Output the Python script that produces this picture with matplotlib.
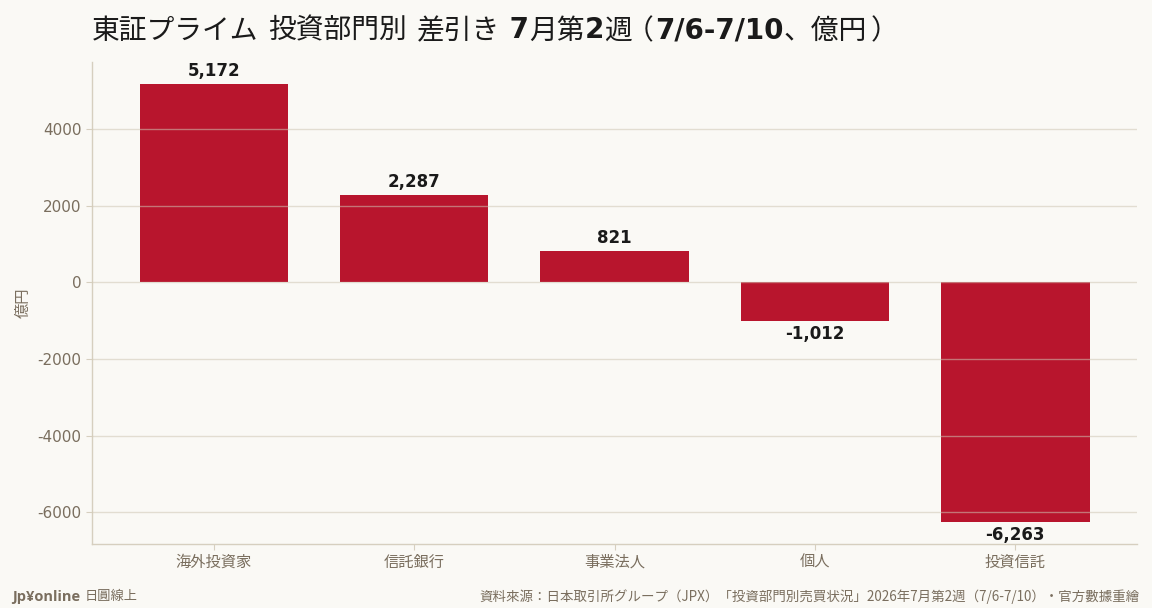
import re
import matplotlib
matplotlib.use("Agg")
import matplotlib.pyplot as plt

categories = ["海外投資家", "信託銀行", "事業法人", "個人", "投資信託"]
values = [5172, 2287, 821, -1012, -6263]
yticks = [-6000, -4000, -2000, 0, 2000, 4000]

title = "東証プライム 投資部門別 差引き 7月第2週（7/6-7/10、億円）"
ylabel = "億円"
brand_bold = "Jp¥online"
brand_rest = "日圓線上"
source = "資料來源：日本取引所グループ（JPX）「投資部門別売買状況」2026年7月第2週（7/6-7/10）・官方數據重繪"

BG = "#FAF9F5"
BAR = "#B8152D"
TICK = "#7A6E5E"
SPINE = "#D6CFBF"
GRID = "#CFC6B4"
DARK = "#1A1A1A"
LATIN = ["DejaVu Sans", "Noto Sans CJK JP"]
CJK_FIRST = ["Noto Sans CJK JP", "DejaVu Sans"]

plt.rcParams["font.family"] = CJK_FIRST

fig = plt.figure(figsize=(11.52, 6.08), dpi=100, facecolor=BG)
W = fig.bbox.width
ax = fig.add_axes([0.0799, 0.105, 0.9071, 0.793])
ax.set_facecolor(BG)

x = list(range(len(categories)))
ax.bar(x, values, width=0.74, color=BAR, zorder=1)

ax.set_axisbelow(False)
ax.yaxis.grid(True, color=GRID, alpha=0.55, linewidth=1.0, zorder=2)
ax.xaxis.grid(False)
ax.set_yticks(yticks)
ax.set_yticklabels([str(v) for v in yticks], family=LATIN)
ax.set_xticks(x)
ax.set_xticklabels(categories, family=CJK_FIRST)
ax.tick_params(axis="both", colors=SPINE, labelcolor=TICK, labelsize=11, length=4, width=0.8)
ax.tick_params(axis="x", pad=3)

for s in ["top", "right"]:
    ax.spines[s].set_visible(False)
for s in ["left", "bottom"]:
    ax.spines[s].set_color(SPINE)
    ax.spines[s].set_linewidth(1.0)

ax.set_ylabel(ylabel, color=TICK, fontsize=11, family=CJK_FIRST, labelpad=4)

for xi, v in zip(x, values):
    label = f"{v:,}"
    if v >= 0:
        ax.annotate(label, (xi, v), xytext=(0, 2.5), textcoords="offset points",
                    ha="center", va="bottom", fontsize=12, fontweight="bold",
                    color=DARK, family=LATIN)
    else:
        ax.annotate(label, (xi, v), xytext=(0, -3), textcoords="offset points",
                    ha="center", va="top", fontsize=12, fontweight="bold",
                    color=DARK, family=LATIN)

fig.canvas.draw()
renderer = fig.canvas.get_renderer()


def split_pieces(s, latin_props, cjk_props):
    pieces = []
    for r in re.findall(r"[（）]|[\x00-\x7f]+|[^\x00-\x7f（）]+", s):
        if r in "（）":
            pieces.append((r, cjk_props, True))
        elif re.match(r"[\x00-\x7f]", r):
            pieces.append((r, latin_props, False))
        else:
            pieces.append((r, cjk_props, False))
    return pieces


def draw_pieces(pieces, x0, y, box_em):
    xp = x0
    for t, p, b in pieces:
        em = p["fontsize"] * 100 / 72
        if b:
            w = em * box_em
            shift = -0.14 * em if t == "（" else 0.22 * em
            fig.text((xp + w / 2 + shift) / W, y, t, ha="center", va="center_baseline", **p)
        else:
            tt = fig.text(xp / W, y, t, ha="left", va="center_baseline", **p)
            w = tt.get_window_extent(renderer).width
        xp += w


title_latin = dict(fontsize=20, fontweight="bold", color=DARK, family=LATIN)
title_cjk = dict(fontsize=20, fontweight="normal", color=DARK, family=CJK_FIRST)
draw_pieces(split_pieces(title, title_latin, title_cjk), 0.0799 * W, 0.955, 0.85)

fig.text(0.989, 0.021, source, fontsize=9.7, color=TICK, family=CJK_FIRST,
         ha="right", va="center_baseline")

t1 = fig.text(0.0104, 0.021, brand_bold, fontsize=10.5, fontweight="bold", color=TICK,
              family=["Open Sans", "DejaVu Sans"], ha="left", va="center_baseline")
bb = t1.get_window_extent(renderer)
fig.text((bb.x1 + 5) / W, 0.021, brand_rest, fontsize=9.5, color=TICK,
         family=CJK_FIRST, ha="left", va="center_baseline")

fig.savefig("out.png", dpi=100, facecolor=BG)
